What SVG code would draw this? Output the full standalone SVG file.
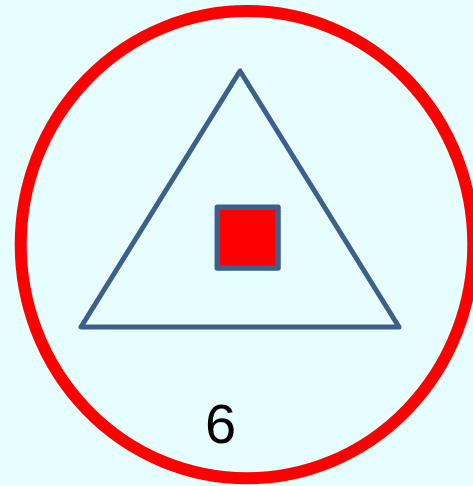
<svg xmlns="http://www.w3.org/2000/svg" width="473" height="486" viewBox="0 0 473 486">
<style>
.outline{fill:none;stroke:#3D5F8A;stroke-width:5;stroke-linejoin:round}
.label{font-family:"Liberation Sans",Arial,sans-serif;font-size:56px;fill:#000}
</style>
<rect width="473" height="486" fill="#E6FEFE"/>
<g id="circle">
<ellipse cx="247" cy="244.7" rx="226.3" ry="233.6" fill="none" stroke="#FF0000" stroke-width="12"/>
</g>
<g id="triangle">
<polygon class="outline" points="240,71 81,327 399,327"/>
</g>
<g id="square">
<rect x="217.3" y="207.3" width="60.7" height="60.7" fill="#FF0000" stroke="#3D5F8A" stroke-width="5.5" stroke-linejoin="round"/>
</g>
<g id="label">
<text class="label" x="220.5" y="443" text-anchor="middle">6</text>
</g>
<g id="connectors"/>
</svg>
